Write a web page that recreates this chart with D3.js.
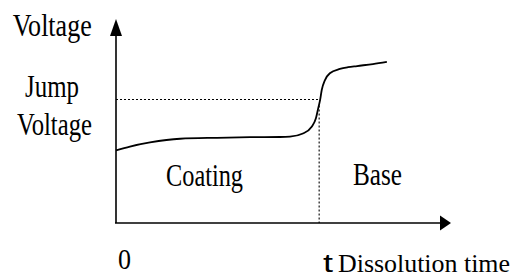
<!DOCTYPE html>
<html>
<head>
<meta charset="utf-8">
<script src="https://cdn.jsdelivr.net/npm/d3@7"></script>
<style>
  html, body { margin: 0; padding: 0; background: #fff; }
  svg { display: block; }
</style>
</head>
<body>
<svg id="chart" width="514" height="278"></svg>
<script>
// dissolution time (arbitrary units) and voltage (arbitrary units)
const timeVals = [0, 4.3, 10.5, 19.8, 31.2, 41.4, 50.6, 53.7, 57.7, 60.4, 61.7, 62.4, 63.0, 63.5, 64.5, 66.0, 69.1, 71.6, 74.4, 79.3, 83.6]
const voltVals = [37.2, 39.2, 41.3, 43.2, 43.7, 44.0, 44.1, 44.3, 45.9, 49.4, 53.7, 58.8, 63.1, 68.2, 73.3, 76.8, 79.0, 79.9, 80.5, 81.5, 82.6]
const jumpTime = 62.7
const jumpVolt = 63.3

const serif = "'Liberation Serif', 'DejaVu Serif', serif"
const svg = d3.select("#chart")

const x = d3.scaleLinear().domain([0, 100]).range([116, 440])
const y = d3.scaleLinear().domain([0, 100]).range([223, 28])

// axes
svg.append("line")
    .attr("x1", x(0)).attr("y1", y(0))
    .attr("x2", x(0)).attr("y2", 30)
    .attr("stroke", "#000").attr("stroke-width", 1.6)
svg.append("line")
    .attr("x1", x(0) - 1).attr("y1", y(0))
    .attr("x2", 442).attr("y2", y(0))
    .attr("stroke", "#000").attr("stroke-width", 1.6)

// arrow heads
svg.append("path")
    .attr("d", `M${x(0)},19 L${x(0) - 6},36 L${x(0) + 6},36 Z`)
    .attr("fill", "#000")
svg.append("path")
    .attr("d", `M451,${y(0)} L440,${y(0) - 7.5} L440,${y(0) + 7.5} Z`)
    .attr("fill", "#000")

// jump guides
svg.append("line")
    .attr("x1", x(0)).attr("y1", y(jumpVolt))
    .attr("x2", x(jumpTime)).attr("y2", y(jumpVolt))
    .attr("stroke", "#000").attr("stroke-width", 1.1)
    .attr("stroke-dasharray", "2,2")
svg.append("line")
    .attr("x1", x(jumpTime)).attr("y1", y(jumpVolt) + 6)
    .attr("x2", x(jumpTime)).attr("y2", y(0))
    .attr("stroke", "#000").attr("stroke-width", 1.1)
    .attr("stroke-dasharray", "2,2")

// curve
const line = d3.line()
    .x((d, i) => x(timeVals[i]))
    .y(d => y(d))
    .curve(d3.curveMonotoneX)

svg.append("path")
    .datum(voltVals)
    .attr("d", line)
    .attr("fill", "none")
    .attr("stroke", "#000")
    .attr("stroke-width", 1.8)

// labels
const labels = [
    { t: "Voltage", x: 12.7, y: 36, w: 79, s: 31 },
    { t: "Jump", x: 25, y: 97, w: 54, s: 31 },
    { t: "Voltage", x: 17, y: 135, w: 75, s: 31 },
    { t: "Coating", x: 166, y: 186, w: 77, s: 32 },
    { t: "Base", x: 353, y: 185, w: 49, s: 32 },
    { t: "0", x: 118, y: 269, w: 13, s: 30 },
    { t: "Dissolution time", x: 338, y: 272, w: 172, s: 25 }
]
svg.selectAll(".lbl")
    .data(labels)
    .enter()
    .append("text")
    .attr("class", "lbl")
    .attr("x", d => d.x)
    .attr("y", d => d.y)
    .style("font-family", serif)
    .attr("font-size", d => d.s)
    .attr("fill", "#000")
    .attr("textLength", d => d.w)
    .attr("lengthAdjust", "spacingAndGlyphs")
    .text(d => d.t)

svg.append("text")
    .attr("x", 323).attr("y", 272)
    .style("font-family", "'Liberation Sans', Arial, sans-serif")
    .attr("font-size", 26)
    .attr("textLength", 10)
    .attr("lengthAdjust", "spacingAndGlyphs")
    .text("t")
</script>
</body>
</html>
